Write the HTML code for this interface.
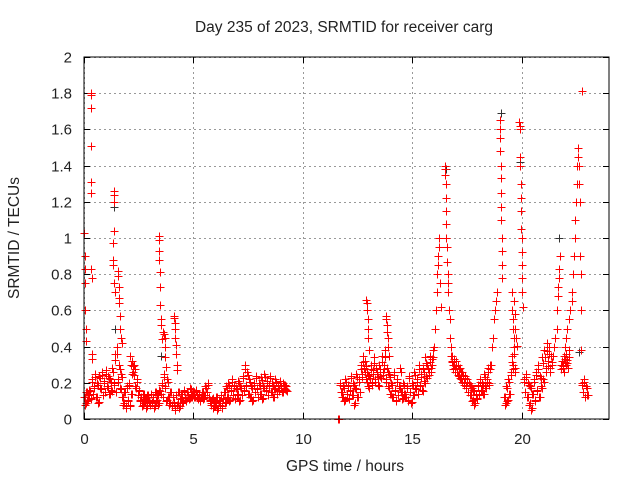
<!DOCTYPE html>
<html><head><meta charset="utf-8"><style>
html,body{margin:0;padding:0;background:#fff;}
svg{display:block;font-family:"Liberation Sans",sans-serif;}
</style></head><body>
<svg id="chart" width="640" height="480" xmlns="http://www.w3.org/2000/svg">
<rect width="640" height="480" fill="#fff"/>
<text x="344" y="32" font-size="15.5" text-anchor="middle" fill="#222">Day 235 of 2023, SRMTID for receiver carg</text>
<text x="345" y="471" font-size="15.5" text-anchor="middle" fill="#222">GPS time / hours</text>
<text transform="translate(19,238) rotate(-90)" font-size="15.5" text-anchor="middle" fill="#222">SRMTID / TECUs</text>
<g id="grid"></g>
<g id="ticks"></g>
<g id="marks"></g>
<rect x="84" y="57" width="525" height="362" fill="none" stroke="#000" stroke-width="1"/>
</svg>
<script>
const xTicks=[0,5,10,15,20];
const yTicks=[0,0.2,0.4,0.6,0.8,1,1.2,1.4,1.6,1.8,2];
const yTickLabels=["0","0.2","0.4","0.6","0.8","1","1.2","1.4","1.6","1.8","2"];
// baseline segments: start hour, step, values
const segStart=[0,11.7,16.8,19.2,20.1,21.8,22.75];
const segStep=[0.05,0.05,0.05,0.05,0.05,0.05,0.05];
const seg0=[0.12,0.08,0.15,0.10,0.13,0.16,0.11,0.22,0.14,0.18,0.25,0.12,0.20,0.09,0.24,0.17,0.26,0.13,0.21,0.15,
0.27,0.18,0.24,0.14,0.22,0.16,0.28,0.20,0.36,0.15,0.40,0.22,0.30,0.17,0.25,0.12,0.08,0.15,0.06,0.18,
0.10,0.20,0.07,0.14,0.32,0.26,0.30,0.18,0.22,0.13,0.16,0.10,0.12,0.07,0.14,0.09,0.11,0.06,0.13,0.10,
0.08,0.14,0.09,0.12,0.06,0.15,0.10,0.13,0.08,0.16,0.14,0.20,0.12,0.25,0.18,0.10,0.22,0.12,0.08,0.15,
0.07,0.12,0.09,0.05,0.13,0.08,0.15,0.06,0.11,0.14,0.09,0.16,0.12,0.10,0.15,0.13,0.11,0.17,0.12,0.14,
0.15,0.12,0.16,0.13,0.11,0.14,0.10,0.12,0.15,0.11,0.13,0.18,0.15,0.20,0.12,0.10,0.08,0.11,0.06,0.09,
0.07,0.12,0.05,0.10,0.08,0.13,0.06,0.11,0.15,0.09,0.18,0.12,0.20,0.10,0.16,0.22,0.13,0.19,0.11,0.17,
0.14,0.21,0.10,0.18,0.13,0.24,0.16,0.30,0.19,0.26,0.14,0.22,0.12,0.18,0.10,0.20,0.15,0.24,0.17,0.12,
0.20,0.14,0.23,0.11,0.18,0.25,0.16,0.21,0.13,0.19,0.24,0.15,0.20,0.12,0.17,0.22,0.14,0.19,0.16,0.21,
0.18,0.15,0.20,0.17,0.19,0.16];
const seg1=[0.20,0.15,0.12,0.18,0.10,0.22,0.14,0.19,0.11,0.16,0.24,0.13,0.20,0.08,0.17,0.25,0.12,0.22,0.15,0.30,
0.25,0.35,0.28,0.32,0.22,0.26,0.18,0.24,0.30,0.20,0.27,0.34,0.22,0.28,0.25,0.19,0.30,0.24,0.35,0.26,
0.30,0.38,0.22,0.28,0.18,0.25,0.14,0.20,0.12,0.26,0.16,0.10,0.22,0.13,0.18,0.28,0.15,0.11,0.20,0.14,
0.12,0.18,0.10,0.24,0.15,0.09,0.20,0.13,0.26,0.17,0.22,0.14,0.30,0.19,0.25,0.16,0.28,0.21,0.34,0.24,
0.30,0.26,0.35,0.28,0.33,0.38];
const seg2=[0.35,0.30,0.33,0.28,0.32,0.26,0.30,0.24,0.28,0.22,0.26,0.20,0.24,0.18,0.22,0.15,0.20,0.13,0.18,0.10,
0.16,0.08,0.14,0.11,0.19,0.13,0.22,0.16,0.20,0.14,0.25,0.18,0.22,0.28,0.20,0.30];
const seg3=[0.12,0.08,0.18,0.10,0.22,0.14,0.26,0.35,0.30,0.40,0.28,0.45];
const seg4=[0.22,0.15,0.25,0.12,0.20,0.08,0.18,0.05,0.14,0.22,0.10,0.26,0.16,0.30,0.12,0.24,0.18,0.34,0.22,0.38,0.28,0.42,0.32,0.40,0.28,0.35];
const seg5=[0.30,0.32,0.28,0.35,0.33,0.36,0.31,0.38];
const seg6=[0.20,0.15,0.22,0.12,0.18,0.13];
// spike points (hours, TECU)
const spikeT=[0.02,0.03,0.04,0.05,0.06,0.07,0.09,
0.3,0.31,0.32,0.33,0.3,0.31,0.34,0.35,0.36,0.37,
1.36,1.37,1.38,1.35,1.34,1.33,1.32,1.36,1.4,
1.55,1.56,1.58,1.6,1.62,1.64,1.66,1.7,1.72,
2.1,2.15,2.2,
3.42,3.43,3.45,3.44,3.46,3.47,3.48,3.5,3.52,3.55,
3.62,3.65,3.68,3.7,3.72,3.76,3.8,
4.1,4.12,4.15,4.17,4.18,4.2,4.22,4.25,4.27,
11.6,11.62,11.64,
12.9,12.92,12.94,12.96,12.98,13.0,13.02,
13.8,13.82,13.84,13.86,13.88,13.9,13.92,
16.0,16.05,16.1,16.12,16.15,16.18,16.2,16.22,16.25,16.28,16.3,
16.5,16.51,16.52,16.53,16.54,16.55,16.56,16.57,16.58,16.6,16.62,16.64,16.66,
16.7,16.72,16.74,16.76,16.78,16.8,
18.6,18.65,18.7,18.75,18.8,18.85,18.9,
19.0,19.01,19.02,19.03,19.04,19.05,19.06,19.07,19.08,19.09,19.1,19.11,19.12,
19.55,19.58,19.6,19.62,19.64,19.66,19.68,19.7,
19.9,19.92,19.93,19.94,19.95,19.96,19.97,19.98,19.99,20.0,20.01,20.02,20.03,20.04,20.06,
21.4,21.45,21.5,21.55,21.6,21.62,21.65,21.68,21.7,21.72,21.75,
21.9,21.95,22.0,22.05,22.1,22.15,22.2,
22.3,22.33,22.36,22.4,22.43,22.46,22.5,22.52,22.55,22.58,
22.6,22.62,22.64,22.66,22.68,22.7,22.72,22.74,
22.76];
const spikeV=[1.03,0.9,0.83,0.75,0.6,0.5,0.43,
1.8,1.79,1.72,1.51,1.31,1.25,0.83,0.78,0.36,0.33,
1.26,1.24,1.2,1.04,0.97,0.88,0.85,0.75,0.7,
0.82,0.79,0.73,0.67,0.64,0.57,0.5,0.45,0.42,
0.35,0.3,0.25,
1.01,0.99,0.93,0.88,0.81,0.73,0.63,0.55,0.52,0.44,
0.48,0.47,0.45,0.4,0.34,0.29,0.22,
0.57,0.56,0.53,0.5,0.45,0.41,0.36,0.3,0.27,
0.0,0.0,0.0,
0.66,0.64,0.6,0.55,0.5,0.45,0.38,
0.57,0.55,0.52,0.48,0.45,0.4,0.35,
0.4,0.5,0.6,0.7,0.8,0.85,0.9,0.95,1.0,0.75,0.62,
1.4,1.38,1.35,1.3,1.22,1.15,1.08,1.0,0.95,0.87,0.8,0.75,0.7,
0.6,0.55,0.45,0.4,0.35,0.32,
0.3,0.4,0.45,0.55,0.6,0.65,0.7,
1.65,1.6,1.55,1.48,1.4,1.33,1.25,1.17,1.1,1.0,0.93,0.85,0.78,
0.7,0.6,0.55,0.5,0.65,0.45,0.58,0.5,
1.64,1.62,1.6,1.45,1.4,1.3,1.22,1.15,1.05,1.0,0.92,0.85,0.78,0.7,0.62,
0.3,0.35,0.4,0.45,0.5,0.6,0.68,0.73,0.78,0.83,0.9,
0.3,0.35,0.4,0.45,0.5,0.55,0.6,
0.65,0.7,0.8,0.9,1.0,1.1,1.2,1.3,1.4,1.5,
1.45,1.4,1.3,1.2,0.9,0.8,0.6,0.38,
1.81];
const greyT=[0.05,0.3,1.35,1.4,3.5,16.55,19.05,19.95,21.7,22.65];
const greyV=[0.75,1.25,1.17,0.5,0.35,1.38,1.69,1.42,1.0,0.37];

const NS="http://www.w3.org/2000/svg";
const X0=84,X1=609,Y0=419,Y1=57,XMAX=24,YMAX=2;
function xs(t){return X0+(X1-X0)*t/XMAX;}
function ys(v){return Y0-(Y0-Y1)*v/YMAX;}
const grid=document.getElementById('grid'),ticks=document.getElementById('ticks'),marks=document.getElementById('marks');
function line(p,x1,y1,x2,y2,st,dash){const l=document.createElementNS(NS,'line');l.setAttribute('x1',x1);l.setAttribute('y1',y1);l.setAttribute('x2',x2);l.setAttribute('y2',y2);l.setAttribute('stroke',st);if(dash)l.setAttribute('stroke-dasharray',dash);p.appendChild(l);return l;}
function txt(x,y,s,anchor){const t=document.createElementNS(NS,'text');t.setAttribute('x',x);t.setAttribute('y',y);t.setAttribute('font-size','15');t.setAttribute('fill','#222');t.setAttribute('text-anchor',anchor);t.textContent=s;ticks.appendChild(t);return t;}
xTicks.forEach(v=>{const x=Math.round(xs(v))+0.5;
 const g=line(grid,x,Y0,x,Y1,'#999','2,3');
 
 
 line(ticks,x,Y0,x,Y0-6,'#000');line(ticks,x,Y1,x,Y1+6,'#000');
 const t=txt(x,444,String(v),'middle');
 
 });
yTicks.forEach((v,i)=>{const y=Math.round(ys(v))+0.5;
 const g=line(grid,X0,y,X1,y,'#999','2,3');
 
 
 line(ticks,X0,y,X0+6,y,'#000');line(ticks,X1,y,X1-6,y,'#000');
 const t=txt(72,y+5,yTickLabels[i],'end');
 
 });
function plus(t,v,col,name){const x=Math.round(xs(t))+0.5,y=Math.round(ys(v))+0.5;
 const p=document.createElementNS(NS,'path');
 p.setAttribute('d','M'+(x-4)+' '+y+'h8M'+x+' '+(y-4)+'v8');
 p.setAttribute('stroke',col);p.setAttribute('stroke-width','1');p.setAttribute('fill','none');
 
 
 marks.appendChild(p);}
greyT.forEach((t,i)=>plus(t,greyV[i],'#333','grey-point'));
const segs=[seg0,seg1,seg2,seg3,seg4,seg5,seg6];
segs.forEach((s,k)=>s.forEach((v,i)=>{const t=segStart[k]+segStep[k]*i;plus(t,v,'#f00','srmtid-point');plus(t+segStep[k]/2,v*0.85+0.02,'#f00','srmtid-point');}));
spikeT.forEach((t,i)=>plus(t,spikeV[i],'#f00','srmtid-point'));
</script>
</body></html>
